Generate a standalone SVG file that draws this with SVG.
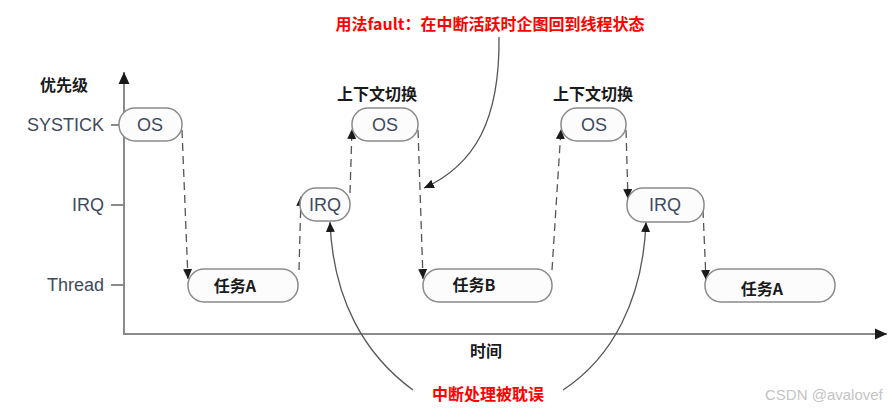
<svg xmlns="http://www.w3.org/2000/svg" width="891" height="409" viewBox="0 0 891 409">
<style>
.bg{fill:#ffffff}
.axis{stroke:#8a8a8a;stroke-width:2;fill:none}
.node rect{fill:#fcfcfc;stroke:#8a8a8a;stroke-width:1.5}
.nt{font-family:"Liberation Sans",Arial,sans-serif;font-size:18px;fill:#3d4a5c;text-anchor:middle;dominant-baseline:central}
.tt{font-family:"Noto Sans CJK SC","Liberation Sans",sans-serif;font-size:16px;font-weight:bold;fill:#1a1a1a;text-anchor:middle;dominant-baseline:central}
.lab{font-family:"Liberation Sans",Arial,sans-serif;font-size:18px;fill:#3d4a5c;text-anchor:end;dominant-baseline:central}
.cj{font-family:"Noto Sans CJK SC","Liberation Sans",sans-serif;font-size:16px;font-weight:bold;fill:#1a1a1a;text-anchor:middle;dominant-baseline:central}
.red{font-family:"Noto Sans CJK SC","Liberation Sans",sans-serif;font-size:16px;font-weight:bold;fill:#ff0000;text-anchor:middle;dominant-baseline:central}
.dash{stroke:#555;stroke-width:1.3;stroke-dasharray:8,5;fill:none;marker-end:url(#ah)}
.curve{stroke:#555;stroke-width:1.3;fill:none;marker-end:url(#ah)}
.wm{font-family:"Liberation Sans",Arial,sans-serif;font-size:15px;fill:#c4c4c4;dominant-baseline:central}
</style>
<defs>
<marker id="ah" markerUnits="userSpaceOnUse" markerWidth="10" markerHeight="10" viewBox="0 0 10 10" refX="10" refY="5" orient="auto">
<path d="M0,0.5 L10,5 L0,9.5 Z" fill="#1a1a1a"/>
</marker>
<marker id="axh" markerUnits="userSpaceOnUse" markerWidth="12" markerHeight="12" viewBox="0 0 12 12" refX="12" refY="6" orient="auto">
<path d="M0,0.5 L12,6 L0,11.5 Z" fill="#1a1a1a"/>
</marker>
</defs>
<rect class="bg" x="0" y="0" width="891" height="409"/>

<g id="axes">
<path class="axis" d="M124,334 L124,72" marker-end="url(#axh)"/>
<path class="axis" d="M123,334 L887,334" marker-end="url(#axh)"/>
<path class="axis" d="M111,125 L124,125 M111,205 L124,205 M111,285 L124,285" stroke-width="1.5"/>
<text class="cj" x="64" y="84">优先级</text>
<text class="lab" x="104" y="125">SYSTICK</text>
<text class="lab" x="104" y="205">IRQ</text>
<text class="lab" x="104" y="285">Thread</text>
<text class="cj" x="486" y="350">时间</text>
</g>

<g id="connectors">
<path class="dash" d="M182,130 L188,279"/>
<path class="dash" d="M299,270 L301,196"/>
<path class="dash" d="M350,193 L352,129"/>
<path class="dash" d="M418,130 L423,279"/>
<path class="dash" d="M552,270 L561,129"/>
<path class="dash" d="M626,130 L628,199"/>
<path class="dash" d="M703,210 L706,280"/>
<path class="curve" d="M499,37 C500,120 475,165 424,188"/>
<path class="curve" d="M413,390 C365,355 333,300 330,222"/>
<path class="curve" d="M563,390 C612,358 643,300 646,222"/>
</g>

<g id="os1" class="node"><rect x="119" y="108" width="63" height="33" rx="16"/><text class="nt" x="150" y="125">OS</text></g>
<g id="taskA1" class="node"><rect x="188" y="269" width="110" height="33" rx="16"/><text class="tt" x="235" y="285">任务A</text></g>
<g id="irq1" class="node"><rect x="300" y="188" width="50" height="33" rx="16"/><text class="nt" x="325" y="205">IRQ</text></g>
<g id="os2" class="node"><rect x="352" y="108" width="66" height="33" rx="16"/><text class="nt" x="385" y="125">OS</text><text class="cj" x="377" y="93">上下文切换</text></g>
<g id="taskB" class="node"><rect x="423" y="269" width="129" height="33" rx="16"/><text class="tt" x="474" y="284">任务B</text></g>
<g id="os3" class="node"><rect x="561" y="108" width="65" height="33" rx="16"/><text class="nt" x="594" y="125">OS</text><text class="cj" x="593" y="93">上下文切换</text></g>
<g id="irq2" class="node"><rect x="627" y="188" width="77" height="34" rx="16"/><text class="nt" x="665" y="205">IRQ</text></g>
<g id="taskA2" class="node"><rect x="705" y="269" width="130" height="33" rx="16"/><text class="tt" x="762" y="288">任务A</text></g>

<g id="notes">
<text class="red" x="490" y="23">用法fault：在中断活跃时企图回到线程状态</text>
<text class="red" x="488" y="393">中断处理被耽误</text>
<text class="wm" x="765" y="394">CSDN @avalovef</text>
</g>
</svg>
